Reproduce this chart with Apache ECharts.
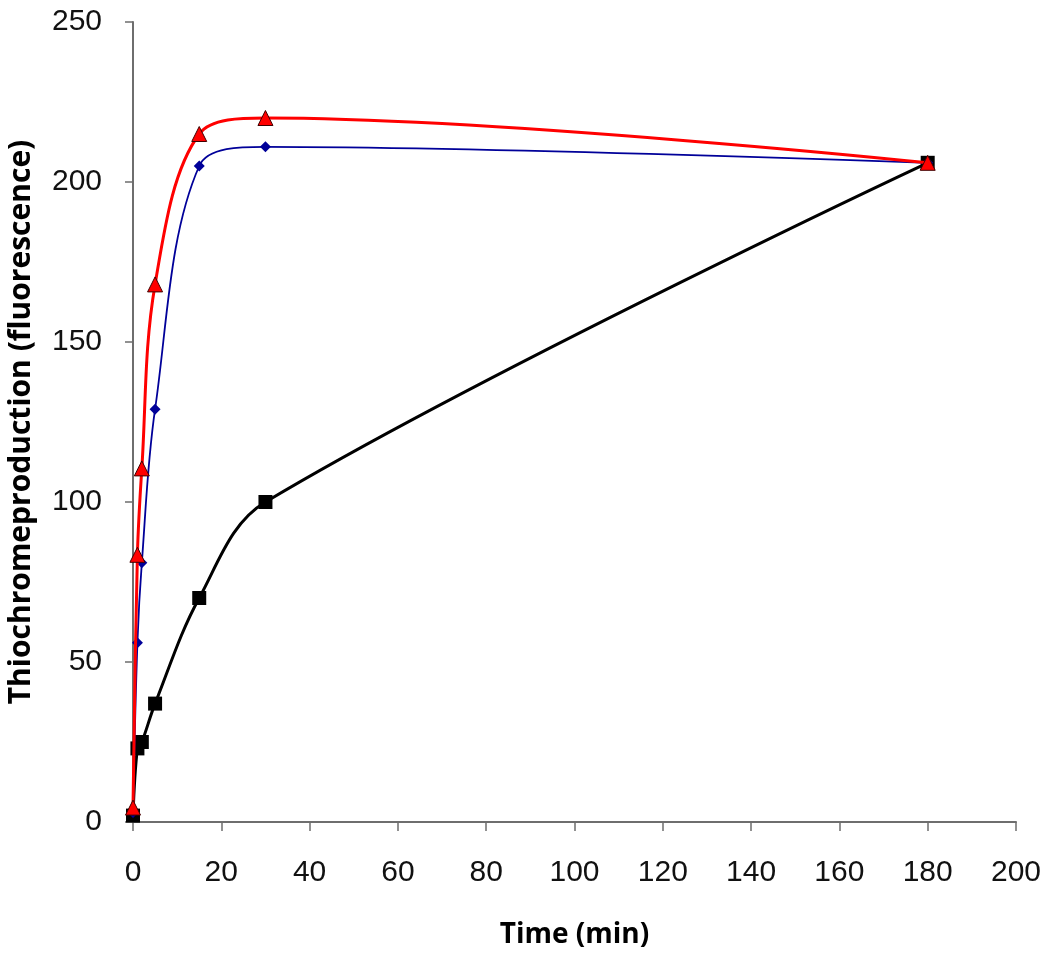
<!DOCTYPE html>
<html><head><meta charset="utf-8">
<script src="https://cdn.jsdelivr.net/npm/echarts@6/dist/echarts.min.js"></script>
<style>html,body{margin:0;padding:0;background:#fff}#c{width:1050px;height:956px}</style>
</head><body><div id="c"></div>
<script>
const times = [0, 1, 2, 5, 15, 30, 180];
const blackValues = [2, 23, 25, 37, 70, 100, 206];
const blueValues = [3, 56, 81, 129, 205, 211, 206];
const redValues = [4.5, 83.5, 110.5, 168, 215, 220, 206];
const xTicks = [0, 20, 40, 60, 80, 100, 120, 140, 160, 180, 200];
const yTicks = [0, 50, 100, 150, 200, 250];

const pairs = v => times.map((t, i) => [t, v[i]]);
const chart = echarts.init(document.getElementById('c'));
const axisCol = '#6e6e6e';
const labelFont = 'Liberation Sans, Arial, sans-serif';
const titleFont = 'Open Sans, sans-serif';
chart.setOption({
  animation: false,
  grid: {left: 133, right: 34, top: 22, bottom: 134, containLabel: false, outerBoundsMode: 'none'},
  xAxis: {
    type: 'value', min: xTicks[0], max: xTicks[xTicks.length - 1], interval: xTicks[1] - xTicks[0],
    axisLine: {lineStyle: {color: axisCol, width: 2}},
    axisTick: {show: true, length: 9, lineStyle: {color: axisCol, width: 1.5}},
    splitLine: {show: false},
    axisLabel: {margin: 36, fontSize: 30, color: '#111', fontFamily: labelFont},
    name: 'Time (min)', nameLocation: 'middle', nameGap: 99,
    nameTextStyle: {fontSize: 28, fontWeight: 'bold', color: '#000', fontFamily: titleFont}
  },
  yAxis: {
    type: 'value', min: yTicks[0], max: yTicks[yTicks.length - 1], interval: yTicks[1] - yTicks[0],
    axisLine: {show: true, lineStyle: {color: axisCol, width: 2}},
    axisTick: {show: true, length: 8, lineStyle: {color: axisCol, width: 1.5}},
    splitLine: {show: false},
    axisLabel: {margin: 31, fontSize: 30, color: '#111', fontFamily: labelFont},
    name: 'Thiochromeproduction (fluorescence)', nameLocation: 'middle', nameGap: 97,
    nameTextStyle: {fontSize: 30, fontWeight: 'bold', color: '#000', fontFamily: titleFont}
  },
  series: [
    {type: 'line', data: pairs(blackValues), smooth: 0.35, symbol: 'rect', symbolSize: 14,
     lineStyle: {color: '#000', width: 3}, itemStyle: {color: '#000'}, z: 2},
    {type: 'line', data: pairs(blueValues), smooth: 0.35, symbol: 'diamond', symbolSize: 11,
     lineStyle: {color: '#000099', width: 1.8}, itemStyle: {color: '#000099'}, z: 3},
    {type: 'line', data: pairs(redValues), smooth: 0.35, symbol: 'triangle', symbolSize: 15,
     lineStyle: {color: '#ff0000', width: 3}, itemStyle: {color: '#ff0000', borderColor: '#400000', borderWidth: 1}, z: 4}
  ]
});
</script></body></html>
